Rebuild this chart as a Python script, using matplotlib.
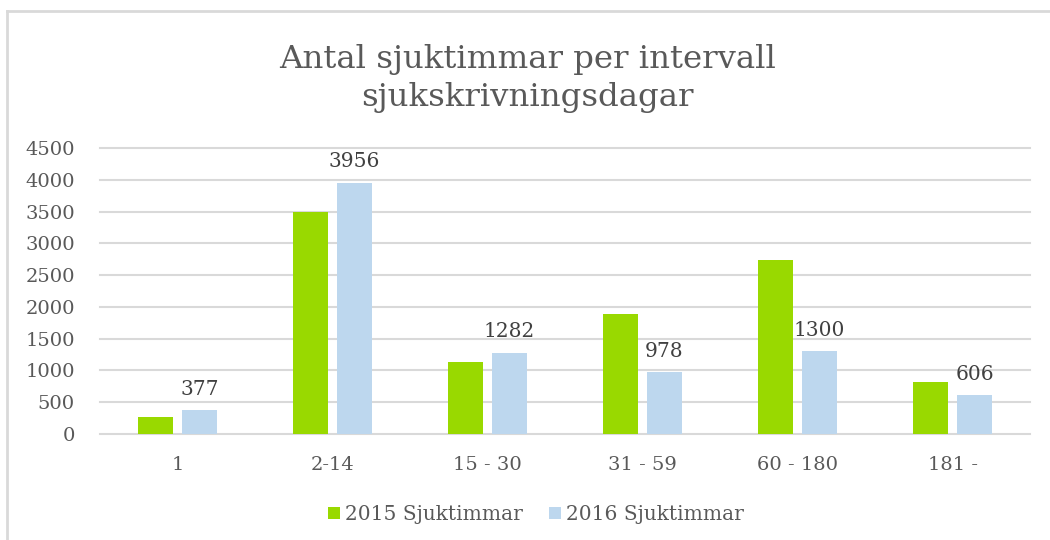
import matplotlib
matplotlib.use("Agg")
import matplotlib.pyplot as plt
from matplotlib.lines import Line2D
import numpy as np

# Sjuktimmar per intervall av sjukskrivningsdagar
categories = ["1", "2-14", "15 - 30", "31 - 59", "60 - 180", "181 -"]
hours_2015 = [260, 3490, 1140, 1880, 2730, 820]
hours_2016 = [377, 3956, 1282, 978, 1300, 606]
series_names = ["2015 Sjuktimmar", "2016 Sjuktimmar"]
y_ticks = [0, 500, 1000, 1500, 2000, 2500, 3000, 3500, 4000, 4500]

green = "#99d900"
blue = "#bdd7ee"
text_col = "#595959"
grid_col = "#d9d9d9"

plt.rcParams["font.family"] = ["DejaVu Serif"]

fig = plt.figure(figsize=(10.5, 5.4), dpi=100)
ax = fig.add_axes([0.0952, 0.1963, 0.8858, 0.5297])

x = np.arange(len(categories))
w = 0.226
off = 0.142
ax.bar(x - off, hours_2015, width=w, color=green, label=series_names[0], zorder=3)
bars16 = ax.bar(x + off, hours_2016, width=w, color=blue, label=series_names[1], zorder=3)

# värdeetiketter bara på 2016-staplarna
for b, v in zip(bars16, hours_2016):
    ax.annotate(str(v), (b.get_x() + b.get_width() / 2, v), xytext=(0, 8),
                textcoords="offset points", ha="center", va="bottom",
                fontsize=14.5, color="#404040")

ax.set_xlim(-0.5, len(categories) - 0.5)
ax.set_ylim(0, 4500)
ax.set_yticks(y_ticks)
ax.set_yticklabels([str(t) for t in y_ticks])
ax.set_xticks(x)
ax.set_xticklabels(categories)
ax.tick_params(axis="both", length=0, labelsize=14, colors=text_col)
ax.tick_params(axis="y", pad=18)
ax.tick_params(axis="x", pad=16)
ax.grid(axis="y", color=grid_col, linewidth=1.5, zorder=0)
for gl in ax.get_ygridlines():
    gl.set_clip_on(False)
for s in ax.spines.values():
    s.set_visible(False)

fig.text(0.502, 0.855, "Antal sjuktimmar per intervall\nsjukskrivningsdagar",
         ha="center", va="center", fontsize=23.3, color=text_col, linespacing=1.3)

ax.legend(loc="upper center", bbox_to_anchor=(0.469, -0.185), ncol=2, frameon=False,
          fontsize=14.5, labelcolor=text_col, handlelength=0.6, handleheight=0.6,
          handletextpad=0.25, columnspacing=1.3)

# ram runt diagrammet (vänster och övre kant)
fig.add_artist(Line2D([0.0071, 0.0071], [0, 0.9796], color=grid_col, linewidth=2,
                      transform=fig.transFigure))
fig.add_artist(Line2D([0.0071, 1.0], [0.9796, 0.9796], color=grid_col, linewidth=2,
                      transform=fig.transFigure))

fig.savefig("out.png", dpi=100)
